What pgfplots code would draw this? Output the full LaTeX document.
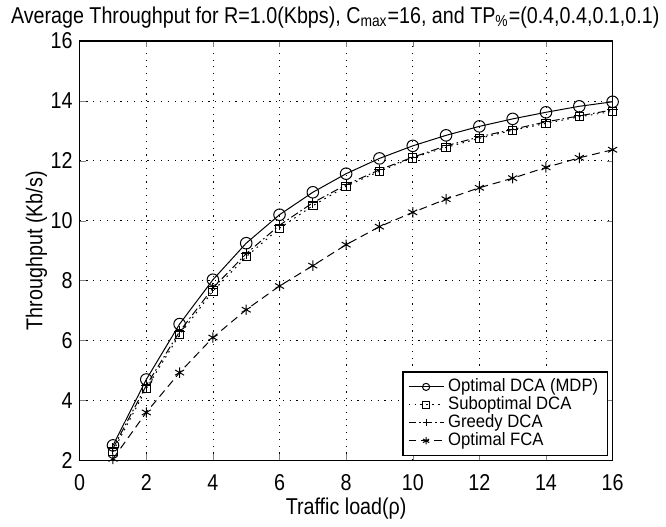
\documentclass[border=0pt]{standalone}
\usepackage{fontspec}
\setmainfont{Liberation Sans}[FakeStretch=0.86]
\newfontfamily\legfont{Liberation Sans}[FakeStretch=0.93]
\usepackage{pgfplots}
\pgfplotsset{compat=1.18}

\begin{document}
\begin{tikzpicture}
\begin{axis}[
  scale only axis,
  width=267.5pt, height=210.5pt,
  xmin=0, xmax=16, ymin=2, ymax=16,
  xtick={0,2,...,16}, ytick={2,4,...,16},
  tick align=inside,
  major tick length=3pt,
  grid=major,
  grid style={black, line width=0.4pt, dash pattern=on 0.6pt off 2.8pt},
  axis line style={line width=0.6pt},
  /pgf/number format/assume math mode=true,
  tick label style={font=\fontsize{11.5}{13}\selectfont},
  xticklabel style={yshift=-3.5pt},
  label style={font=\fontsize{11.5}{13}\selectfont},
  title style={font=\fontsize{11.5}{13}\selectfont, yshift=-3pt, xshift=-5.5pt},
  title={Average Throughput for R=1.0(Kbps), C\textsubscript{max}=16, and TP\textsubscript{\%}=(0.4,0.4,0.1,0.1)},
  xlabel={Traffic load(ρ)},
  ylabel={Throughput (Kb/s)},
  xlabel style={yshift=3pt},
  ylabel style={yshift=-5pt},
  legend style={at={(0.991,0.0095)}, anchor=south east,
    font=\legfont\fontsize{9}{10.5}\selectfont, draw=black, line width=0.6pt,
    inner xsep=2.5pt, inner ysep=1.5pt, row sep=-3pt},
  legend cell align=left,
  legend image code/.code={
    \draw[mark repeat=2, mark phase=2, mark size=1.8pt]
      plot coordinates {(0cm,0cm) (0.31cm,0cm) (0.62cm,0cm)};},
  every axis plot/.append style={black, line width=0.5pt},
]

\addplot[solid, mark=o, mark size=2.9pt, mark options={solid}] coordinates {
  (1,2.50) (2,4.70) (3,6.55) (4,8.03) (5,9.25) (6,10.20) (7,10.95) (8,11.57)
  (9,12.08) (10,12.50) (11,12.85) (12,13.15) (13,13.40) (14,13.62) (15,13.82) (16,13.97)
};
\addlegendentry{Optimal DCA (MDP)}

\addplot[dash pattern=on 0.8pt off 2.2pt, mark=square, mark size=2.1pt, mark options={solid}] coordinates {
  (1,2.30) (2,4.40) (3,6.20) (4,7.65) (5,8.80) (6,9.75) (7,10.50) (8,11.15)
  (9,11.65) (10,12.10) (11,12.45) (12,12.75) (13,13.02) (14,13.25) (15,13.47) (16,13.65)
};
\addlegendentry{Suboptimal DCA}

\addplot[dash pattern=on 4pt off 1.5pt on 0.8pt off 1.5pt, mark=+, mark size=2.6pt, mark options={solid}] coordinates {
  (1,2.40) (2,4.50) (3,6.30) (4,7.75) (5,8.90) (6,9.85) (7,10.60) (8,11.20)
  (9,11.70) (10,12.12) (11,12.50) (12,12.80) (13,13.05) (14,13.30) (15,13.50) (16,13.70)
};
\addlegendentry{Greedy DCA}

\addplot[dash pattern=on 4pt off 2.5pt, mark=asterisk, mark size=2.6pt, mark options={solid}] coordinates {
  (1,2.05) (2,3.60) (3,4.93) (4,6.10) (5,7.03) (6,7.82) (7,8.50) (8,9.20)
  (9,9.80) (10,10.28) (11,10.72) (12,11.10) (13,11.42) (14,11.78) (15,12.10) (16,12.37)
};
\addlegendentry{Optimal FCA}

\end{axis}
\path (current axis.south west) ++(-40pt,0pt);
\end{tikzpicture}
\end{document}
